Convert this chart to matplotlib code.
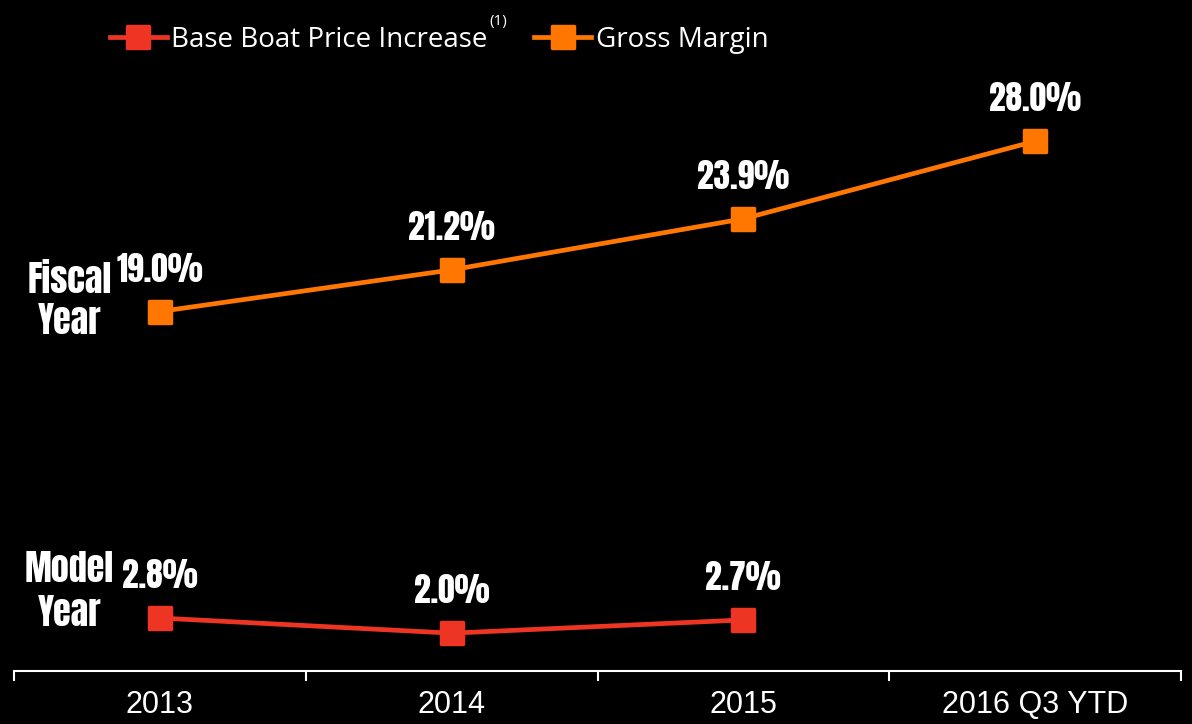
import matplotlib
matplotlib.use("Agg")
import matplotlib.pyplot as plt
from matplotlib.markers import MarkerStyle
from matplotlib.ticker import FixedLocator

categories = ["2013", "2014", "2015", "2016 Q3 YTD"]
price_increase = [2.8, 2.0, 2.7]
gross_margin = [19.0, 21.2, 23.9, 28.0]
price_labels = ["2.8%", "2.0%", "2.7%"]
margin_labels = ["19.0%", "21.2%", "23.9%", "28.0%"]

RED = "#EE3524"
ORANGE = "#FF7700"
BOLD_FONT = ["Anton", "DejaVu Sans"]
LEGEND_FONT = ["Open Sans", "DejaVu Sans"]
TICK_FONT = ["Liberation Sans", "DejaVu Sans"]

fig = plt.figure(figsize=(11.92, 7.24), dpi=100, facecolor="black")
ax = fig.add_axes([14 / 1192, 1 - 671 / 724, (1181 - 14) / 1192, (671 - 40) / 724])
ax.set_facecolor("black")

ms = MarkerStyle("s", joinstyle="round")
x_all = list(range(len(categories)))
l1, = ax.plot(x_all[:len(price_increase)], price_increase, color=RED, lw=3.4,
              marker=ms, ms=16, mec=RED, mew=2.5, solid_joinstyle="round",
              label="Base Boat Price Increase")
l2, = ax.plot(x_all, gross_margin, color=ORANGE, lw=3.4,
              marker=ms, ms=16, mec=ORANGE, mew=2.5, solid_joinstyle="round",
              label="Gross Margin")

for xi, v, t in zip(x_all, price_increase, price_labels):
    ax.annotate(t, (xi, v), xytext=(0, 21.5), textcoords="offset points",
                ha="center", va="baseline", color="white", fontsize=24,
                family=BOLD_FONT)
for xi, v, t in zip(x_all, gross_margin, margin_labels):
    ax.annotate(t, (xi, v), xytext=(0, 21.5), textcoords="offset points",
                ha="center", va="baseline", color="white", fontsize=24,
                family=BOLD_FONT)

ax.text(-0.31, 19.6, "Fiscal\nYear", ha="center", va="center", color="white",
        fontsize=26, family=BOLD_FONT, linespacing=1.2)
ax.text(-0.31, 4.25, "Model\nYear", ha="center", va="center", color="white",
        fontsize=26, family=BOLD_FONT, linespacing=1.28)

ax.set_xlim(-0.5, len(categories) - 0.5)
ax.set_ylim(0, 33.35)
ax.set_xticks(x_all)
ax.set_xticklabels(categories, color="white", fontsize=22, family=TICK_FONT)
ax.xaxis.set_minor_locator(FixedLocator([i - 0.5 for i in range(len(categories) + 1)]))
ax.tick_params(axis="x", which="major", length=0, pad=14)
ax.tick_params(axis="x", which="minor", length=7, width=1.5, color="white")
ax.set_yticks([])
for s in ["left", "right", "top"]:
    ax.spines[s].set_visible(False)
ax.spines["bottom"].set_color("white")
ax.spines["bottom"].set_linewidth(1.5)

leg = fig.legend(handles=[l1, l2], loc="center left", bbox_to_anchor=(110 / 1192, 1 - 40 / 724),
                 ncol=2, frameon=False, handlelength=2.05, handletextpad=0.15,
                 columnspacing=1.69, borderaxespad=0, borderpad=0,
                 prop={"family": LEGEND_FONT, "size": 20})
for t in leg.get_texts():
    t.set_color("white")

fig.canvas.draw()
bb = leg.get_texts()[0].get_window_extent()
fig.text(bb.x1 / fig.bbox.width + 2 / 1192, 1 - 21 / 724, "(1)", color="white",
         fontsize=11, family=LEGEND_FONT, ha="left", va="center")

fig.savefig("out.png", dpi=100, facecolor="black")
